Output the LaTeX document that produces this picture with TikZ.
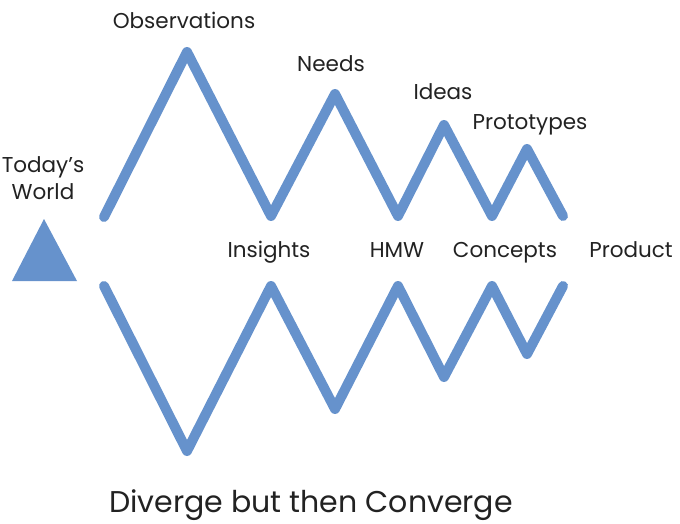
\documentclass[tikz,border=0pt]{standalone}
\usepackage{fontspec}
\setmainfont{Poppins}
\definecolor{zig}{RGB}{102,146,204}
\definecolor{ink}{RGB}{34,34,34}
\begin{document}
\begin{tikzpicture}[x=1pt,y=-1pt,
  zigline/.style={draw=zig,line width=10pt,line cap=round,line join=round},
  lbl/.style={text=ink,font=\fontsize{21.5}{26}\selectfont,inner sep=0pt,anchor=base},
  title/.style={text=ink,font=\fontsize{30}{36}\selectfont,inner sep=0pt,anchor=base}]
\useasboundingbox (0,0) rectangle (680,524);

% upper zigzag vertices
\coordinate (u0) at (104,217);
\coordinate (u1) at (187,52);
\coordinate (u2) at (271,216);
\coordinate (u3) at (335,94);
\coordinate (u4) at (398,216);
\coordinate (u5) at (444,125);
\coordinate (u6) at (492,216);
\coordinate (u7) at (527,149);
\coordinate (u8) at (563,216);
% lower zigzag vertices
\coordinate (l0) at (104,286);
\coordinate (l1) at (187,451);
\coordinate (l2) at (271,286);
\coordinate (l3) at (335,409);
\coordinate (l4) at (398,286);
\coordinate (l5) at (444,377);
\coordinate (l6) at (492,286);
\coordinate (l7) at (527,354);
\coordinate (l8) at (563,286);

\draw[zigline] (u0) -- (u1) -- (u2) -- (u3) -- (u4) -- (u5) -- (u6) -- (u7) -- (u8);
\draw[zigline] (l0) -- (l1) -- (l2) -- (l3) -- (l4) -- (l5) -- (l6) -- (l7) -- (l8);

% starting point
\coordinate (ta) at (44,219);
\coordinate (tb) at (12,281);
\coordinate (tc) at (77,281);
\fill[zig] (ta) -- (tb) -- (tc) -- cycle;

% stage labels (placed on their baselines)
\node[lbl] (today1) at (43,172) {Today’s};
\node[lbl] (today2) at (43,199) {World};
\node[lbl] (obs) at (184,29) {Observations};
\node[lbl] (needs) at (331,72) {Needs};
\node[lbl] (ideas) at (443,100) {Ideas};
\node[lbl] (proto) at (530,130) {Prototypes};
\node[lbl] (ins) at (269,257) {Insights};
\node[lbl] (hmw) at (397,257) {HMW};
\node[lbl] (conc) at (505,257) {Concepts};
\node[lbl] (prod) at (631,257) {Product};
\node[title] (cap) at (311,512) {Diverge but then Converge};
\end{tikzpicture}
\end{document}
